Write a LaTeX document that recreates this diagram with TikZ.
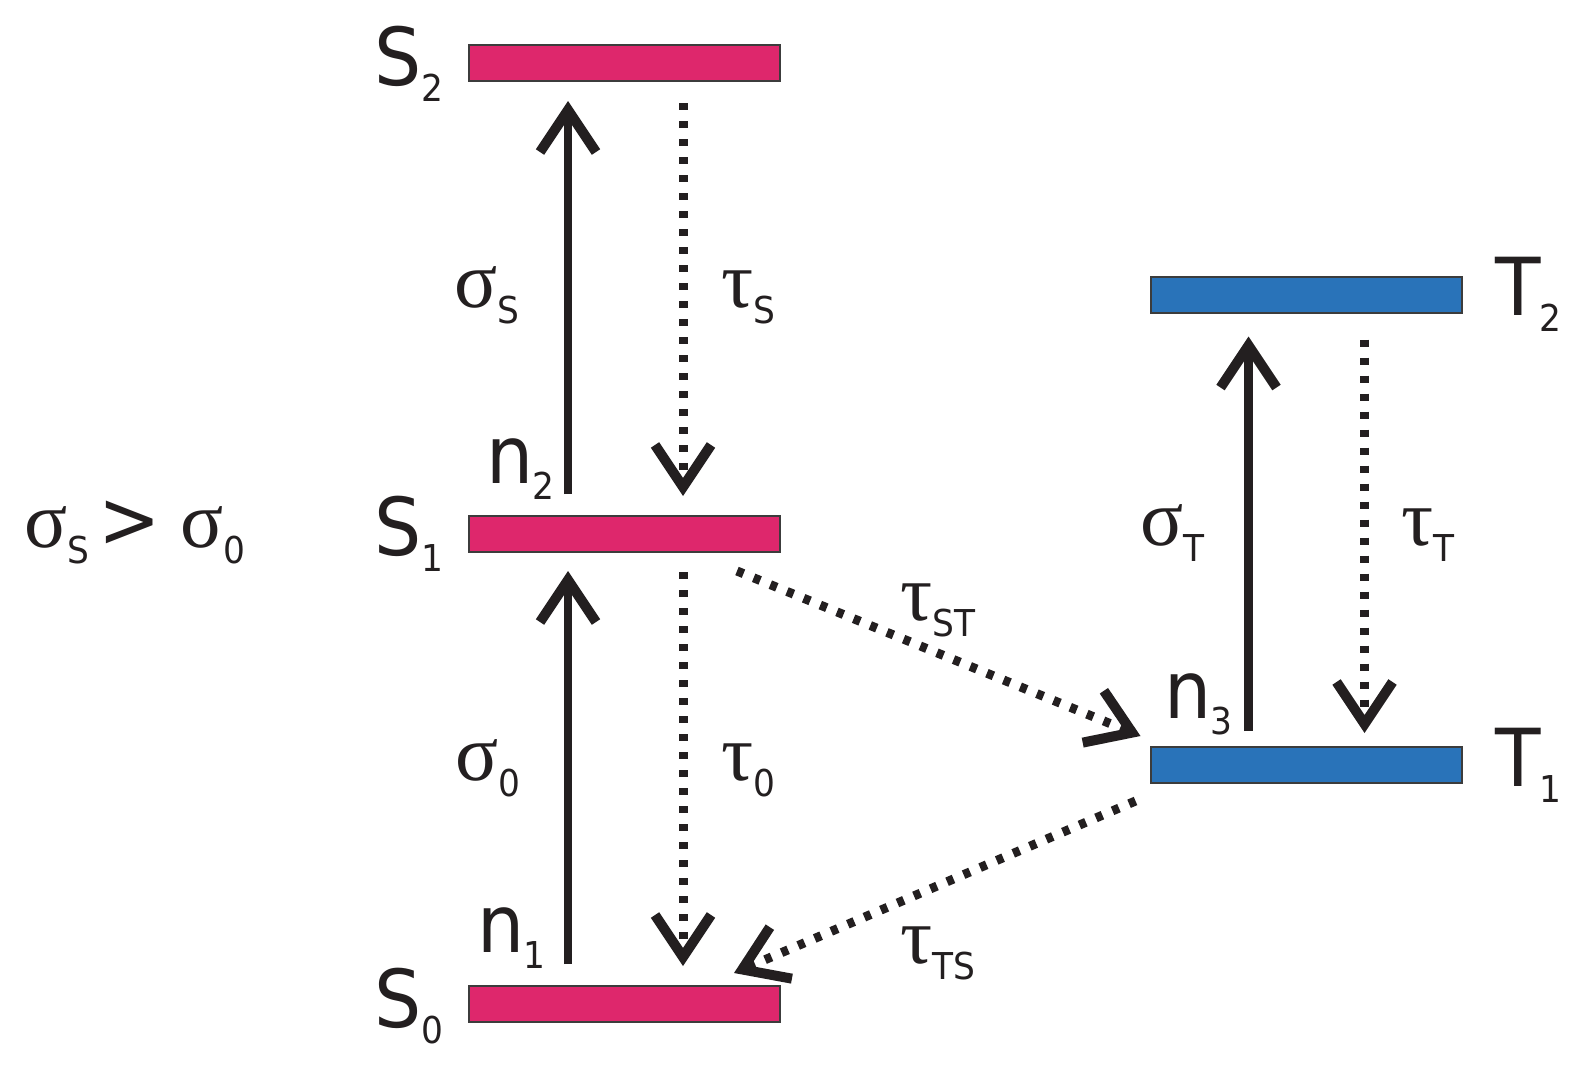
\documentclass[tikz,border=0pt]{standalone}
\usepackage{fontspec}
\setmainfont[FakeStretch=0.93]{DejaVu Sans}
\newfontfamily\grk{Liberation Serif}
\usetikzlibrary{arrows.meta,calc}
\definecolor{spink}{RGB}{222,39,108}
\definecolor{tblue}{RGB}{41,115,185}
\definecolor{edgegray}{RGB}{60,60,60}
\definecolor{inkc}{RGB}{35,31,32}
\newcommand\bigf{\fontsize{80}{90}\selectfont}
\newcommand\subx[1]{\raisebox{-16pt}{\fontsize{37}{40}\selectfont #1}}
\newcommand\gk[1]{{\grk\fontsize{80}{90}\selectfont #1}}
\begin{document}
\begin{tikzpicture}[x=1pt,y=-1pt,
  level/.style={draw=edgegray,line width=2pt,minimum width=311pt,minimum height=36pt,inner sep=0pt,outer sep=0pt},
  lab/.style={anchor=base west,inner sep=0pt,text=inkc,font=\bigf},
  solidarr/.style={draw=inkc,line width=8.5pt,-{Straight Barb[length=42pt,width=56pt,line width=10pt]}},
  dotarr/.style={draw=inkc,line width=9pt,dash pattern=on 7pt off 11pt,-{Straight Barb[length=42pt,width=56pt,line width=10pt]}}
]
\useasboundingbox (0,0) rectangle (1593,1066);
\fill[white] (0,0) rectangle (1593,1066);
% levels
\node[level,fill=spink] (S2) at (624.5,63) {};
\node[level,fill=spink] (S1) at (624.5,534) {};
\node[level,fill=spink] (S0) at (624.5,1004) {};
\node[level,fill=tblue] (T2) at (1306,294.5) {};
\node[level,fill=tblue] (T1) at (1306,765) {};
% transitions
\draw[solidarr] ($(S0.north west)+(99,-22)$) -- ($(S1.south west)+(99,19)$);
\draw[solidarr] ($(S1.north west)+(99,-22)$) -- ($(S2.south west)+(99,20)$);
\draw[dotarr] ($(S2.south west)+(214,22)$) -- ($(S1.north west)+(214,-20)$);
\draw[dotarr] ($(S1.south west)+(214,20)$) -- ($(S0.north west)+(214,-20)$);
\draw[solidarr] ($(T1.north west)+(98,-16)$) -- ($(T2.south west)+(98,24)$);
\draw[dotarr] ($(T2.south west)+(214,27)$) -- ($(T1.north west)+(214,-14)$);
\draw[dotarr] ($(S1.south east)+(-43,19)$) -- ($(T1.north west)+(-10,-11)$);
\draw[dotarr] ($(T1.south west)+(-15,18)$) -- ($(S0.north east)+(-46,-13)$);
% labels
\node[lab] (lS2) at (374,85) {S\subx{2}};
\node[lab] (lS1) at (374,555) {S\subx{1}};
\node[lab] (lS0) at (374,1027) {S\subx{0}};
\node[lab] (lT2) at (1495,315) {T\kern-1pt\subx{2}};
\node[lab] (lT1) at (1495,786) {T\kern-1pt\subx{1}};
\node[lab] (ln2) at (486,483) {n\kern-1pt\subx{2}};
\node[lab] (ln1) at (477,952) {n\kern-1pt\subx{1}};
\node[lab] (ln3) at (1164,718) {n\kern-1pt\subx{3}};
\node[lab] (sS) at (454,307) {\gk{σ}\subx{S}};
\node[lab] (tS) at (721,307) {\gk{τ}\subx{S}};
\node[lab] (s0) at (455,780) {\gk{σ}\subx{0}};
\node[lab] (t0) at (721,780) {\gk{τ}\subx{0}};
\node[lab] (sT) at (1140,545) {\gk{σ}\subx{T}};
\node[lab] (tT) at (1401,545) {\gk{τ}\subx{T}};
\node[lab] (tST) at (900,620) {\gk{τ}\subx{ST}};
\node[lab] (tTS) at (900,963) {\gk{τ}\subx{TS}};
\node[lab] (rel) at (24,547) {\gk{σ}\subx{S}\hspace{9pt}>\hspace{20pt}\gk{σ}\subx{0}};
\end{tikzpicture}
\end{document}
